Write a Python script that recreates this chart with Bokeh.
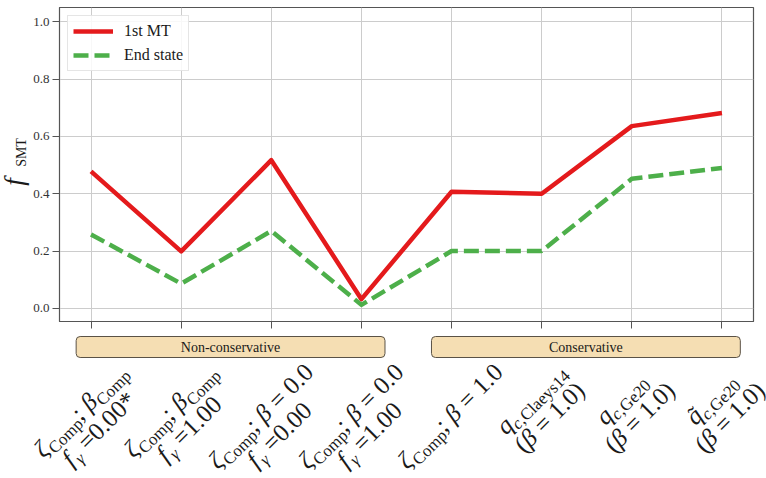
import math
from bokeh.plotting import figure
from bokeh.models import (Range1d, FixedTicker, BoxAnnotation, Legend,
                          LegendItem, PrintfTickFormatter, ColumnDataSource)
from bokeh.core.properties import value
from bokeh.layouts import column, row
from bokeh.embed import file_html
from bokeh.resources import INLINE

# ---------------- data ----------------
tick_labels = [
    "$ζ$_{Comp}; $β$_{Comp}\n$f$_{$γ$} =0.00*",
    "$ζ$_{Comp}; $β$_{Comp}\n$f$_{$γ$} =1.00",
    "$ζ$_{Comp}; $β$ = 0.0\n$f$_{$γ$} =0.00",
    "$ζ$_{Comp}; $β$ = 0.0\n$f$_{$γ$} =1.00",
    "$ζ$_{Comp}; $β$ = 1.0",
    "$q$_{$c$,Claeys14}\n($β$ = 1.0)",
    "$q$_{$c$,Ge20}\n($β$ = 1.0)",
    "$q̃$_{$c$,Ge20}\n($β$ = 1.0)",
]
first_mt = [0.478, 0.199, 0.517, 0.032, 0.407, 0.400, 0.636, 0.682]
end_state = [0.258, 0.086, 0.270, 0.012, 0.200, 0.200, 0.452, 0.490]
groups = ["Non-conservative", "Conservative"]
y_ticks = [0.0, 0.2, 0.4, 0.6, 0.8, 1.0]
series_names = ["1st MT", "End state"]
y_label = ("f", "SMT")

# ---------------- layout constants ----------------
W, H = 766, 478
YL_W = 30                      # width of the y-label strip
TOP_H = 331                    # height of the upper row
FR_L, FR_T, FR_R = 59, 7, 13   # frame edges (absolute px)
FR_W = W - FR_L - FR_R
FR_H = 314
X0, X1 = -0.35, 7.35
Y0, Y1 = -0.046, 1.05
FONT = "Liberation Serif"
TXT = "#1a1a1a"
AX = "#555555"
MID = 0.34                     # baseline -> em-box middle, fraction of font size


def dx(px):
    return X0 + (px - FR_L) * (X1 - X0) / FR_W


def sx(x):
    return FR_L + (x - X0) * FR_W / (X1 - X0)


# ---------------- main plot ----------------
p = figure(width=W - YL_W, height=TOP_H, x_range=Range1d(X0, X1),
           y_range=Range1d(Y0, Y1),
           min_border_left=FR_L - YL_W, min_border_right=FR_R, min_border_top=FR_T,
           min_border_bottom=TOP_H - FR_T - FR_H,
           output_backend="svg", toolbar_location=None)
p.background_fill_color = "white"
p.border_fill_color = "white"
p.outline_line_color = AX
p.outline_line_width = 1.2

xs = list(range(len(tick_labels)))
r1 = p.line(xs, first_mt, line_color="#e41a1c", line_width=4.5, line_join="round")
r2 = p.line(xs, end_state, line_color="#4daf4a", line_width=4.5,
            line_dash="15 6", line_join="round")

p.xaxis.ticker = FixedTicker(ticks=xs)
p.xaxis.major_label_overrides = {i: "" for i in xs}
p.xaxis.major_label_text_font_size = "0px"
p.xaxis.major_label_standoff = 0
p.yaxis.ticker = FixedTicker(ticks=y_ticks)
p.yaxis.formatter = PrintfTickFormatter(format="%.1f")
for ax in (p.xaxis[0], p.yaxis[0]):
    ax.axis_line_color = AX
    ax.major_tick_line_color = AX
    ax.major_tick_out = 7
    ax.major_tick_in = 0
    ax.minor_tick_line_color = None
    ax.major_label_text_font = FONT
    ax.major_label_text_color = "#333333"
p.yaxis.major_label_text_font_size = "13px"
p.yaxis.major_label_standoff = 3
p.xgrid.ticker = FixedTicker(ticks=xs)
p.ygrid.ticker = FixedTicker(ticks=y_ticks)
for g in (p.xgrid[0], p.ygrid[0]):
    g.grid_line_color = "#cccccc"
    g.grid_line_width = 1

legend = Legend(items=[LegendItem(label=series_names[0], renderers=[r1]),
                       LegendItem(label=series_names[1], renderers=[r2])],
                location="top_left")
legend.margin = 8
legend.padding = 5
legend.spacing = 4
legend.glyph_width = 40
legend.glyph_height = 20
legend.label_height = 20
legend.label_standoff = 11
legend.label_text_font = FONT
legend.label_text_font_size = "16px"
legend.label_text_color = TXT
legend.border_line_color = "#cccccc"
legend.background_fill_alpha = 0.85
p.add_layout(legend)

# ---------------- y-label strip (pixel coordinates) ----------------
yl = figure(width=YL_W, height=TOP_H, x_range=Range1d(0, YL_W),
            y_range=Range1d(TOP_H, 0), min_border=0,
            x_axis_location=None, y_axis_location=None,
            output_backend="svg", toolbar_location=None)
yl.grid.visible = False
yl.outline_line_color = None
F_SIZE, SMT_SIZE = 27, 14
yl.text(x=[23 - MID * F_SIZE], y=[188], text=[y_label[0]], angle=math.pi / 2,
        text_font=value(FONT), text_font_style="italic",
        text_font_size=f"{F_SIZE}px",
        text_color=TXT, text_align="left", text_baseline="middle")
yl.text(x=[25.5 - MID * SMT_SIZE], y=[168], text=[y_label[1]], angle=math.pi / 2,
        text_font=value(FONT), text_font_size=f"{SMT_SIZE}px",
        text_color=TXT, text_align="left", text_baseline="middle")

# ---------------- bottom strip: group boxes + rotated tick labels ----------------
BOT_H = H - TOP_H
b = figure(width=W, height=BOT_H, x_range=Range1d(dx(0), dx(W)),
           y_range=Range1d(H, TOP_H), min_border=0,
           x_axis_location=None, y_axis_location=None,
           output_backend="svg", toolbar_location=None)
b.grid.visible = False
b.outline_line_color = None

box_left_frac = [0.024, 0.536]
box_w_frac = 0.445
gx, gname = [], []
for gi, name in enumerate(groups):
    l = X0 + box_left_frac[gi] * (X1 - X0)
    r = l + box_w_frac * (X1 - X0)
    b.add_layout(BoxAnnotation(left=l, right=r, top=336, bottom=357,
                               fill_color="#f5deb3", fill_alpha=1.0,
                               line_color="#5a5246", line_alpha=1.0, line_width=1,
                               border_radius=4, level="underlay"))
    gx.append((l + r) / 2)
    gname.append(name)
b.text(x=gx, y=[347] * len(gx), text=gname, text_font=value(FONT),
       text_font_size="14px", text_color=TXT, text_align="center",
       text_baseline="middle")

S = 25
SUB = 17
LS = 26.0
SUBDROP = 5.0
COMB_TILDE = "\u0303"
REG = {'C': .667, 'o': .5, 'm': .778, 'p': .5, ';': .278, ' ': .25, '=': .564,
       '.': .25, '*': .5, '(': .333, ')': .333, ',': .25, 'l': .278, 'a': .444,
       'e': .444, 'y': .5, 's': .389, 'G': .722, 'c': .444, COMB_TILDE: 0.0}
ITA = {'ζ': .45, 'β': .52, 'γ': .44, 'f': .36, 'q': .5, 'c': .444, COMB_TILDE: 0.0}


def parse(line):
    runs, buf = [], ""
    ital, sub = False, False
    i = 0

    def flush():
        nonlocal buf
        if buf:
            runs.append((buf, ital, sub))
        buf = ""
    while i < len(line):
        ch = line[i]
        if ch == "$":
            flush()
            ital = not ital
        elif line.startswith("_{", i):
            flush()
            sub = True
            i += 2
            continue
        elif ch == "}" and sub:
            flush()
            sub = False
        else:
            buf += ch
        i += 1
    flush()
    return runs


def run_width(t, ital, sub):
    size = SUB if sub else S
    tab = ITA if ital else REG
    return sum(tab.get(c, REG.get(c, 0.5)) for c in t) * size


c45 = math.cos(math.pi / 4)
T_TOP = 360.0
src = dict(x=[], y=[], text=[], style=[], size=[])


def emit(ox, oy, a, bb, t, ital, size):
    px = ox + c45 * a + c45 * bb
    py = oy - c45 * a + c45 * bb
    src["x"].append(dx(px))
    src["y"].append(py)
    src["text"].append(t.replace(" ", "\u00a0"))
    src["style"].append("italic" if ital else "normal")
    src["size"].append(f"{size}px")


for i, lab in enumerate(tick_labels):
    lines = [parse(ln) for ln in lab.split("\n")]
    widths = [sum(run_width(*r) for r in ln) for ln in lines]
    L = max(widths)
    Hb = 0.75 * S + (len(lines) - 1) * LS + 0.25 * S
    ox = sx(i) - c45 * (L + Hb) / 2
    oy = T_TOP + c45 * L
    for j, ln in enumerate(lines):
        a = (L - widths[j]) / 2
        base_b = 0.75 * S + j * LS
        for (t, ital, sub) in ln:
            size = SUB if sub else S
            bb = base_b + (SUBDROP if sub else 0.0) - MID * size
            if COMB_TILDE in t:
                base = t.replace(COMB_TILDE, "")
                emit(ox, oy, a, bb, base, ital, size)
                # spacing tilde placed over the letter
                emit(ox, oy, a + 0.17 * size, bb, "\u02dc", False, size)
            else:
                emit(ox, oy, a, bb, t, ital, size)
            a += run_width(t, ital, sub)

b.text(x="x", y="y", text="text", source=ColumnDataSource(src),
       angle=math.pi / 4, text_font=value(FONT), text_font_style="style",
       text_font_size="size", text_color=TXT, text_align="left",
       text_baseline="middle")

layout = column(row(yl, p, spacing=0), b, spacing=0)
open("out.html", "w").write(file_html(layout, INLINE))
